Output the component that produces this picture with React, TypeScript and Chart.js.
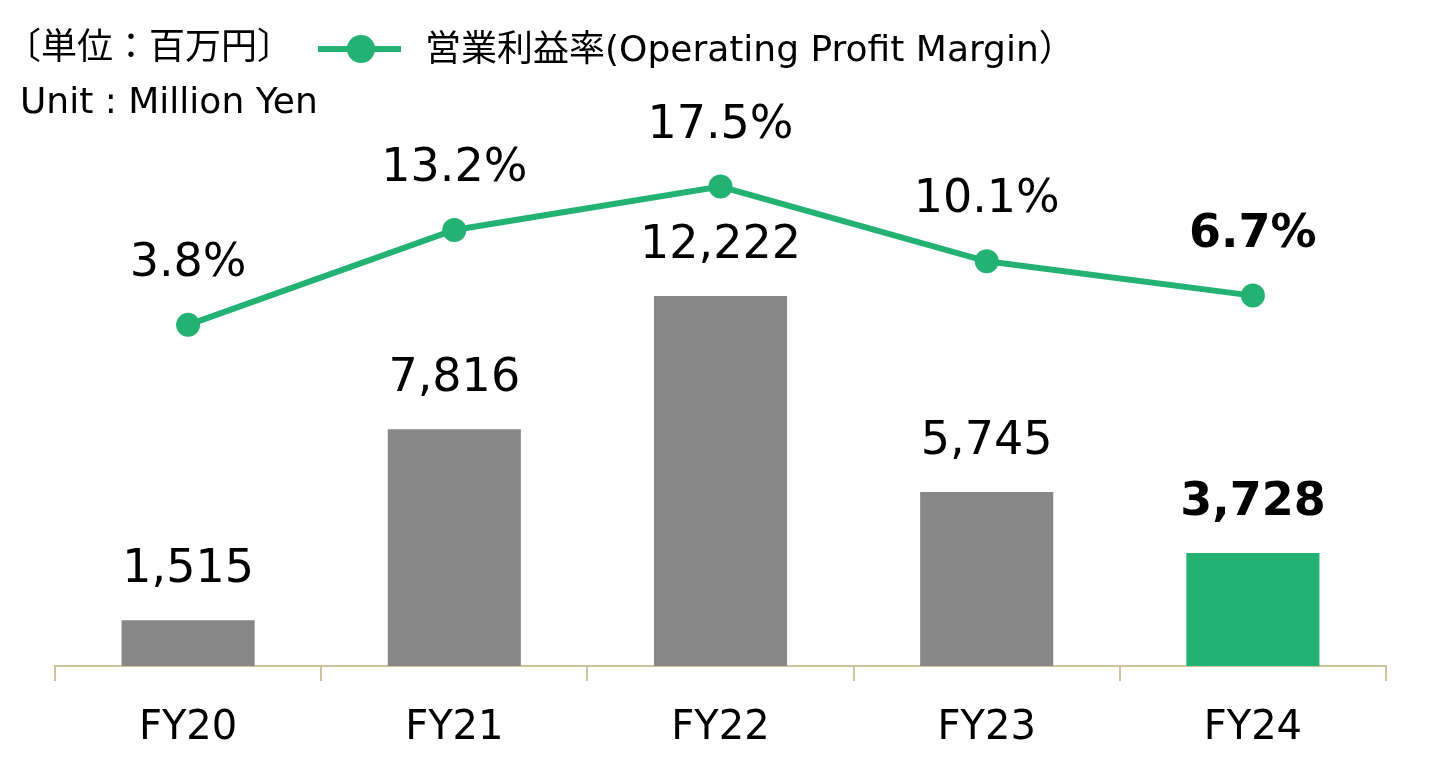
import React, { useEffect, useRef } from "react";
import { Chart, registerables } from "chart.js";

Chart.register(...registerables);

const categories = ["FY20", "FY21", "FY22", "FY23", "FY24"];
const operatingProfit = [1515, 7816, 12222, 5745, 3728];
const profitMargin = [3.8, 13.2, 17.5, 10.1, 6.7];
const highlightIndex = 4;

const unitJa = "〔単位：百万円〕";
const unitEn = "Unit : Million Yen";
const legendLabel = "営業利益率(Operating Profit Margin）";

const GREEN = "#23b273";
const GREY = "#878787";
const AXIS = "#cfc39e";
const FONT = '"DejaVu Sans", "Noto Sans CJK JP", sans-serif';

const labelPlugin = {
  id: "valueLabels",
  afterDatasetsDraw(chart: any) {
    const ctx = chart.ctx;
    ctx.save();
    ctx.textAlign = "center";
    ctx.textBaseline = "alphabetic";
    ctx.fillStyle = "#000";
    chart.data.datasets.forEach((ds: any, di: number) => {
      const meta = chart.getDatasetMeta(di);
      meta.data.forEach((el: any, i: number) => {
        const bold = i === highlightIndex;
        ctx.font = `${bold ? "bold " : ""}46px ${FONT}`;
        if (ds.type === "bar") {
          const txt = Number(ds.data[i]).toLocaleString("en-US");
          ctx.fillText(txt, el.x, el.y - 38);
        } else {
          const txt = Number(ds.data[i]).toFixed(1) + "%";
          ctx.fillText(txt, el.x, el.y - 49);
        }
      });
    });
    ctx.restore();
  },
};

export default function App() {
  const ref = useRef<HTMLCanvasElement | null>(null);

  useEffect(() => {
    if (!ref.current) return;
    const chart = new Chart(ref.current, {
      type: "bar",
      data: {
        labels: categories,
        datasets: [
          {
            type: "line",
            label: legendLabel,
            data: profitMargin,
            yAxisID: "y1",
            borderColor: GREEN,
            backgroundColor: GREEN,
            borderWidth: 6,
            pointRadius: 12,
            pointHoverRadius: 12,
            pointBackgroundColor: GREEN,
            pointBorderWidth: 0,
            tension: 0,
            order: 0,
          } as any,
          {
            type: "bar",
            label: "Operating Profit",
            data: operatingProfit,
            yAxisID: "y",
            backgroundColor: categories.map((_, i) => (i === highlightIndex ? GREEN : GREY)),
            barPercentage: 0.5,
            categoryPercentage: 1,
            order: 1,
          } as any,
        ],
      },
      options: {
        responsive: false,
        animation: false,
        layout: { padding: { top: 121, left: 55, right: 54, bottom: 4 } },
        plugins: {
          legend: { display: false },
          tooltip: { enabled: false },
        },
        scales: {
          x: {
            grid: {
              display: true,
              drawOnChartArea: false,
              drawTicks: true,
              tickLength: 15,
              color: AXIS,
              lineWidth: 2,
            },
            border: { display: true, color: AXIS, width: 2 },
            ticks: {
              color: "#000",
              font: { family: FONT, size: 40 },
              padding: 24,
            },
          },
          y: {
            display: false,
            min: 0,
            max: 18000,
          },
          y1: {
            display: false,
            min: -30,
            max: 24,
          },
        },
      },
      plugins: [labelPlugin],
    });
    return () => chart.destroy();
  }, []);

  return (
    <div
      style={{
        position: "fixed",
        left: 0,
        top: 0,
        width: 1440,
        height: 781,
        background: "#fff",
        fontFamily: FONT,
        color: "#000",
      }}
    >
      <canvas ref={ref} width={1440} height={781} style={{ position: "absolute", left: 0, top: 0 }} />
      <div style={{ position: "absolute", left: 5, top: 25, fontSize: 36, lineHeight: "44px", whiteSpace: "nowrap" }}>
        {unitJa}
      </div>
      <div style={{ position: "absolute", left: 20, top: 79, fontSize: 36, lineHeight: "44px", whiteSpace: "nowrap" }}>
        {unitEn}
      </div>
      <div style={{ position: "absolute", left: 318, top: 46, width: 83, height: 6, background: GREEN }} />
      <div
        style={{
          position: "absolute",
          left: 347,
          top: 35,
          width: 28,
          height: 28,
          borderRadius: "50%",
          background: GREEN,
        }}
      />
      <div style={{ position: "absolute", left: 425, top: 27, fontSize: 36, lineHeight: "44px", whiteSpace: "nowrap" }}>
        {legendLabel}
      </div>
    </div>
  );
}
